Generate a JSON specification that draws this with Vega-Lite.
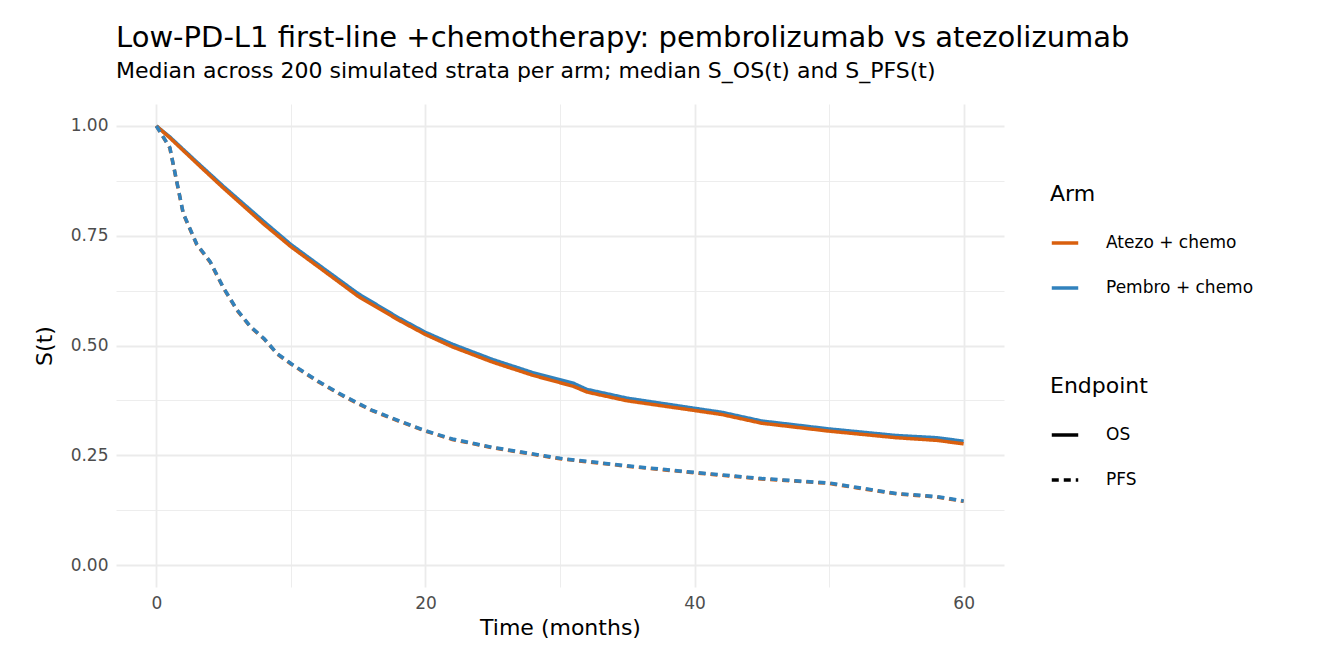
{
  "$schema": "https://vega.github.io/schema/vega-lite/v6.json",
  "width": 888, "height": 483,
  "padding": {"left": 33, "top": 24, "right": 10, "bottom": 10},
  "background": "white",
  "title": {
    "text": "Low-PD-L1 first-line +chemotherapy: pembrolizumab vs atezolizumab",
    "subtitle": "Median across 200 simulated strata per arm; median S_OS(t) and S_PFS(t)",
    "anchor": "start", "frame": "group", "fontSize": 29, "fontWeight": "normal", "subtitleFontSize": 22,
    "font": "DejaVu Sans", "subtitleFont": "DejaVu Sans", "color": "black", "subtitleColor": "black", "offset": 22, "subtitlePadding": 8
  },
  "config": {
    "font": "DejaVu Sans",
    "view": {"stroke": null},
    "axis": {"grid": true, "gridColor": "#ebebeb", "domain": false, "ticks": false, "labelFontSize": 17, "labelColor": "#4d4d4d", "titleFontSize": 22, "titleFontWeight": "normal", "labelPadding": 8},
    "legend": {"titleFontSize": 22, "titleFontWeight": "normal", "labelFontSize": 17, "symbolSize": 700, "symbolStrokeWidth": 3.5, "rowPadding": 22, "titlePadding": 22, "labelOffset": 26}
  },
  "datasets": {
    "curves": [
      {"t":0,"arm":"Pembro + chemo","ep":"OS","s":1.0},{"t":1,"arm":"Pembro + chemo","ep":"OS","s":0.975},{"t":3,"arm":"Pembro + chemo","ep":"OS","s":0.918},{"t":5,"arm":"Pembro + chemo","ep":"OS","s":0.862},{"t":8,"arm":"Pembro + chemo","ep":"OS","s":0.782},{"t":10,"arm":"Pembro + chemo","ep":"OS","s":0.73},{"t":12,"arm":"Pembro + chemo","ep":"OS","s":0.685},{"t":15,"arm":"Pembro + chemo","ep":"OS","s":0.618},{"t":18,"arm":"Pembro + chemo","ep":"OS","s":0.563},{"t":20,"arm":"Pembro + chemo","ep":"OS","s":0.53},{"t":22,"arm":"Pembro + chemo","ep":"OS","s":0.503},{"t":25,"arm":"Pembro + chemo","ep":"OS","s":0.468},{"t":28,"arm":"Pembro + chemo","ep":"OS","s":0.438},{"t":31,"arm":"Pembro + chemo","ep":"OS","s":0.414},{"t":32,"arm":"Pembro + chemo","ep":"OS","s":0.4},{"t":35,"arm":"Pembro + chemo","ep":"OS","s":0.38},{"t":40,"arm":"Pembro + chemo","ep":"OS","s":0.357},{"t":42,"arm":"Pembro + chemo","ep":"OS","s":0.348},{"t":45,"arm":"Pembro + chemo","ep":"OS","s":0.328},{"t":50,"arm":"Pembro + chemo","ep":"OS","s":0.31},{"t":55,"arm":"Pembro + chemo","ep":"OS","s":0.295},{"t":58,"arm":"Pembro + chemo","ep":"OS","s":0.29},{"t":60,"arm":"Pembro + chemo","ep":"OS","s":0.282},
      {"t":0,"arm":"Atezo + chemo","ep":"OS","s":1.0},{"t":1,"arm":"Atezo + chemo","ep":"OS","s":0.973},{"t":3,"arm":"Atezo + chemo","ep":"OS","s":0.915},{"t":5,"arm":"Atezo + chemo","ep":"OS","s":0.858},{"t":8,"arm":"Atezo + chemo","ep":"OS","s":0.776},{"t":10,"arm":"Atezo + chemo","ep":"OS","s":0.725},{"t":12,"arm":"Atezo + chemo","ep":"OS","s":0.68},{"t":15,"arm":"Atezo + chemo","ep":"OS","s":0.612},{"t":18,"arm":"Atezo + chemo","ep":"OS","s":0.558},{"t":20,"arm":"Atezo + chemo","ep":"OS","s":0.525},{"t":22,"arm":"Atezo + chemo","ep":"OS","s":0.497},{"t":25,"arm":"Atezo + chemo","ep":"OS","s":0.462},{"t":28,"arm":"Atezo + chemo","ep":"OS","s":0.432},{"t":31,"arm":"Atezo + chemo","ep":"OS","s":0.407},{"t":32,"arm":"Atezo + chemo","ep":"OS","s":0.394},{"t":35,"arm":"Atezo + chemo","ep":"OS","s":0.374},{"t":40,"arm":"Atezo + chemo","ep":"OS","s":0.352},{"t":42,"arm":"Atezo + chemo","ep":"OS","s":0.343},{"t":45,"arm":"Atezo + chemo","ep":"OS","s":0.323},{"t":50,"arm":"Atezo + chemo","ep":"OS","s":0.305},{"t":55,"arm":"Atezo + chemo","ep":"OS","s":0.29},{"t":58,"arm":"Atezo + chemo","ep":"OS","s":0.284},{"t":60,"arm":"Atezo + chemo","ep":"OS","s":0.276},
      {"t":0,"arm":"Atezo + chemo","ep":"PFS","s":1.0},{"t":1,"arm":"Atezo + chemo","ep":"PFS","s":0.95},{"t":2,"arm":"Atezo + chemo","ep":"PFS","s":0.8},{"t":3,"arm":"Atezo + chemo","ep":"PFS","s":0.73},{"t":4,"arm":"Atezo + chemo","ep":"PFS","s":0.69},{"t":5,"arm":"Atezo + chemo","ep":"PFS","s":0.63},{"t":6,"arm":"Atezo + chemo","ep":"PFS","s":0.58},{"t":7,"arm":"Atezo + chemo","ep":"PFS","s":0.542},{"t":8,"arm":"Atezo + chemo","ep":"PFS","s":0.515},{"t":9,"arm":"Atezo + chemo","ep":"PFS","s":0.48},{"t":10,"arm":"Atezo + chemo","ep":"PFS","s":0.458},{"t":12,"arm":"Atezo + chemo","ep":"PFS","s":0.418},{"t":14,"arm":"Atezo + chemo","ep":"PFS","s":0.383},{"t":16,"arm":"Atezo + chemo","ep":"PFS","s":0.352},{"t":18,"arm":"Atezo + chemo","ep":"PFS","s":0.328},{"t":20,"arm":"Atezo + chemo","ep":"PFS","s":0.305},{"t":22,"arm":"Atezo + chemo","ep":"PFS","s":0.286},{"t":25,"arm":"Atezo + chemo","ep":"PFS","s":0.267},{"t":30,"arm":"Atezo + chemo","ep":"PFS","s":0.242},{"t":35,"arm":"Atezo + chemo","ep":"PFS","s":0.225},{"t":40,"arm":"Atezo + chemo","ep":"PFS","s":0.21},{"t":45,"arm":"Atezo + chemo","ep":"PFS","s":0.196},{"t":48,"arm":"Atezo + chemo","ep":"PFS","s":0.19},{"t":50,"arm":"Atezo + chemo","ep":"PFS","s":0.186},{"t":52,"arm":"Atezo + chemo","ep":"PFS","s":0.176},{"t":55,"arm":"Atezo + chemo","ep":"PFS","s":0.162},{"t":58,"arm":"Atezo + chemo","ep":"PFS","s":0.155},{"t":60,"arm":"Atezo + chemo","ep":"PFS","s":0.145},
      {"t":0,"arm":"Pembro + chemo","ep":"PFS","s":1.0},{"t":1,"arm":"Pembro + chemo","ep":"PFS","s":0.951},{"t":2,"arm":"Pembro + chemo","ep":"PFS","s":0.801},{"t":3,"arm":"Pembro + chemo","ep":"PFS","s":0.731},{"t":4,"arm":"Pembro + chemo","ep":"PFS","s":0.691},{"t":5,"arm":"Pembro + chemo","ep":"PFS","s":0.631},{"t":6,"arm":"Pembro + chemo","ep":"PFS","s":0.581},{"t":7,"arm":"Pembro + chemo","ep":"PFS","s":0.543},{"t":8,"arm":"Pembro + chemo","ep":"PFS","s":0.516},{"t":9,"arm":"Pembro + chemo","ep":"PFS","s":0.481},{"t":10,"arm":"Pembro + chemo","ep":"PFS","s":0.459},{"t":12,"arm":"Pembro + chemo","ep":"PFS","s":0.419},{"t":14,"arm":"Pembro + chemo","ep":"PFS","s":0.384},{"t":16,"arm":"Pembro + chemo","ep":"PFS","s":0.353},{"t":18,"arm":"Pembro + chemo","ep":"PFS","s":0.329},{"t":20,"arm":"Pembro + chemo","ep":"PFS","s":0.306},{"t":22,"arm":"Pembro + chemo","ep":"PFS","s":0.287},{"t":25,"arm":"Pembro + chemo","ep":"PFS","s":0.268},{"t":30,"arm":"Pembro + chemo","ep":"PFS","s":0.243},{"t":35,"arm":"Pembro + chemo","ep":"PFS","s":0.226},{"t":40,"arm":"Pembro + chemo","ep":"PFS","s":0.211},{"t":45,"arm":"Pembro + chemo","ep":"PFS","s":0.197},{"t":48,"arm":"Pembro + chemo","ep":"PFS","s":0.191},{"t":50,"arm":"Pembro + chemo","ep":"PFS","s":0.187},{"t":52,"arm":"Pembro + chemo","ep":"PFS","s":0.177},{"t":55,"arm":"Pembro + chemo","ep":"PFS","s":0.163},{"t":58,"arm":"Pembro + chemo","ep":"PFS","s":0.156},{"t":60,"arm":"Pembro + chemo","ep":"PFS","s":0.146}
    ]
  },
  "data": {"name": "curves"},
  "mark": {"type": "line", "strokeWidth": 3.5, "interpolate": "linear"},
  "encoding": {
    "x": {"field": "t", "type": "quantitative", "title": "Time (months)", "scale": {"domain": [-3, 63], "nice": false, "zero": false},
      "axis": {"values": [0, 10, 20, 30, 40, 50, 60], "labelExpr": "datum.value % 20 == 0 ? datum.label : ''", "gridWidth": {"condition": {"test": "datum.value % 20 == 0", "value": 1.8}, "value": 0.9}, "titlePadding": 6}},
    "y": {"field": "s", "type": "quantitative", "title": "S(t)", "scale": {"domain": [-0.05, 1.05], "nice": false},
      "axis": {"values": [0, 0.125, 0.25, 0.375, 0.5, 0.625, 0.75, 0.875, 1], "format": ".2f", "labelExpr": "(datum.value * 4) % 1 == 0 ? datum.label : ''", "gridWidth": {"condition": {"test": "(datum.value * 4) % 1 == 0", "value": 1.8}, "value": 0.9}, "titlePadding": 14}},
    "color": {"field": "arm", "type": "nominal", "title": "Arm", "scale": {"domain": ["Atezo + chemo", "Pembro + chemo"], "range": ["#d95f0e", "#3182bd"]},
      "legend": {"symbolType": "stroke", "orient": "none", "legendX": 934, "legendY": 80}},
    "strokeDash": {"field": "ep", "type": "nominal", "title": "Endpoint", "scale": {"domain": ["OS", "PFS"], "range": [[1, 0], [7, 5]]},
      "legend": {"symbolType": "stroke", "symbolStrokeColor": "black", "orient": "none", "legendX": 934, "legendY": 272}},
    "order": {"field": "t", "type": "quantitative"}
  }
}
